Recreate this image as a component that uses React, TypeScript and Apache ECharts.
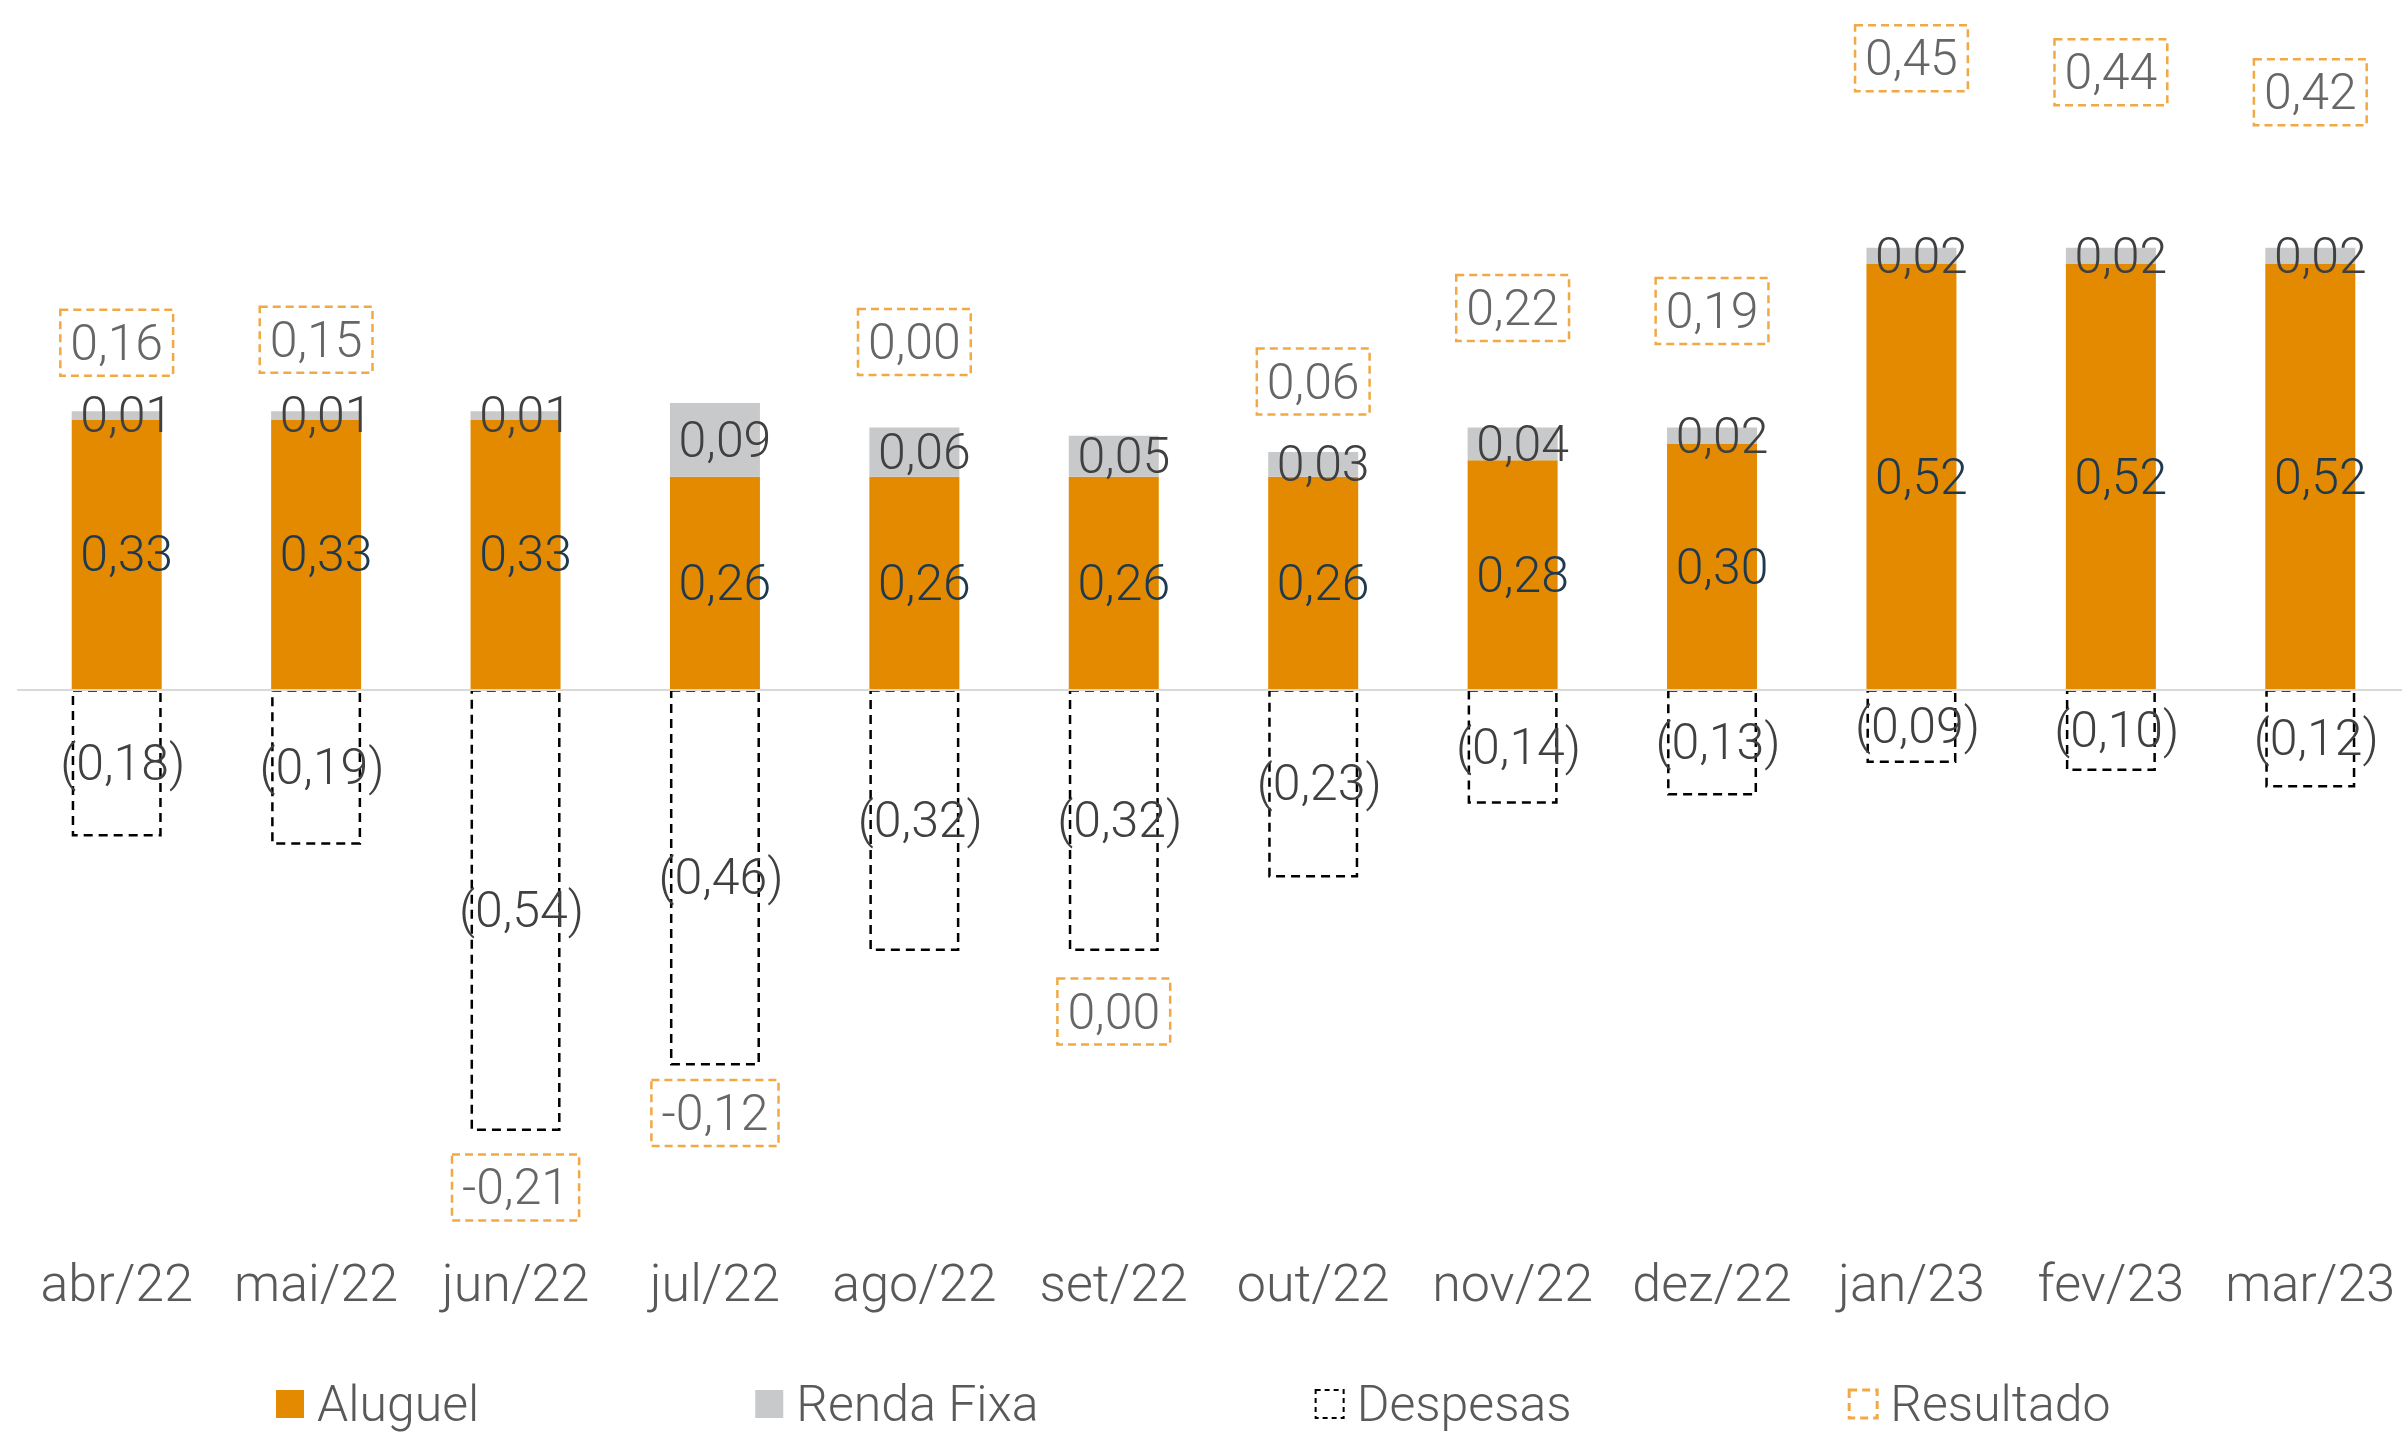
import React, { useEffect, useRef } from 'react';
import * as echarts from 'echarts';

const categories = ['abr/22', 'mai/22', 'jun/22', 'jul/22', 'ago/22', 'set/22', 'out/22', 'nov/22', 'dez/22', 'jan/23', 'fev/23', 'mar/23'];
const aluguel = [0.33, 0.33, 0.33, 0.26, 0.26, 0.26, 0.26, 0.28, 0.30, 0.52, 0.52, 0.52];
const rendaFixa = [0.01, 0.01, 0.01, 0.09, 0.06, 0.05, 0.03, 0.04, 0.02, 0.02, 0.02, 0.02];
const despesas = [-0.18, -0.19, -0.54, -0.46, -0.32, -0.32, -0.23, -0.14, -0.13, -0.09, -0.10, -0.12];
const resultado = [0.16, 0.15, -0.21, -0.12, 0.00, 0.00, 0.06, 0.22, 0.19, 0.45, 0.44, 0.42];

// layout only: gap (px) between each Resultado label box and the bar end it sits beside
const resultadoLabelDistance = [35, 38, 23, 14, 52, 27, 37, 86, 83, 156, 142, 122];

const FONT = 'Roboto';
const WEIGHT = 300;
const ORANGE = '#E48A00';
const GRAY = '#C8C9CB';
const RES_ORANGE = '#EC9416';

const fmt = (v: number) => (Math.round(Math.abs(v) * 100) / 100).toFixed(2).replace('.', ',');
const fmtSigned = (v: number) => (v < 0 && Math.round(Math.abs(v) * 100) !== 0 ? '-' : '') + fmt(v);

export default function App() {
  const ref = useRef<HTMLDivElement>(null);

  useEffect(() => {
    if (!ref.current) return;
    document.body.style.overflow = 'hidden';
    const chart = echarts.init(ref.current, undefined, { renderer: 'svg' });

    const resultadoData = resultado.map((_, i) => {
      const net = aluguel[i] + rendaFixa[i] + despesas[i];
      const above = net > -0.005;
      const anchor = above ? aluguel[i] + rendaFixa[i] : despesas[i];
      return {
        value: [i, anchor],
        label: { position: above ? 'top' : 'bottom', distance: resultadoLabelDistance[i] },
      };
    });

    const barLabel = (color: string, dx: number, wrap: boolean) => ({
      show: true,
      position: 'inside',
      offset: [dx, 0],
      fontSize: 50,
      fontFamily: FONT,
      fontWeight: WEIGHT,
      color,
      textBorderWidth: 0,
      formatter: (p: any) => (wrap ? '(' + fmt(p.value) + ')' : fmt(p.value)),
    });

    const option: any = {
      animation: false,
      backgroundColor: '#ffffff',
      textStyle: { fontFamily: FONT, fontWeight: WEIGHT },
      grid: { left: 17, top: 35, width: 2393, height: 1145, containLabel: false },
      xAxis: {
        type: 'category',
        data: categories,
        axisLine: { show: false, onZero: false },
        axisTick: { show: false },
        splitLine: { show: false },
        axisLabel: { fontSize: 52, color: '#595959', fontFamily: FONT, fontWeight: WEIGHT, margin: 77, interval: 0 },
      },
      yAxis: {
        type: 'value',
        min: -0.6,
        max: 0.8,
        show: false,
        splitLine: { show: false },
      },
      legend: {
        left: 276,
        top: 1379,
        padding: 0,
        itemWidth: 28,
        itemHeight: 28,
        itemGap: 276,
        selectedMode: false,
        textStyle: {
          fontSize: 50,
          lineHeight: 50,
          color: '#595959',
          fontFamily: FONT,
          fontWeight: WEIGHT,
          padding: [0, 0, 0, 8],
        },
        data: [
          { name: 'Aluguel', icon: 'rect', itemStyle: { color: ORANGE } },
          { name: 'Renda Fixa', icon: 'rect', itemStyle: { color: GRAY } },
          {
            name: 'Despesas',
            icon: 'rect',
            itemStyle: { color: 'rgba(0,0,0,0)', borderColor: '#000', borderWidth: 2, borderType: [5, 4] },
          },
          {
            name: 'Resultado',
            icon: 'rect',
            itemStyle: { color: 'rgba(0,0,0,0)', borderColor: RES_ORANGE, borderWidth: 3, borderType: [8, 5] },
          },
        ],
      },
      series: [
        {
          name: 'Aluguel',
          type: 'bar',
          stack: 'total',
          barWidth: 90,
          data: aluguel,
          itemStyle: { color: ORANGE },
          label: barLabel('#1F3A4F', 10, false),
          markLine: {
            silent: true,
            symbol: ['none', 'none'],
            label: { show: false },
            lineStyle: { color: '#D9D9D9', width: 2, type: 'solid' },
            data: [{ yAxis: 0 }],
            z: 10,
          },
        },
        {
          name: 'Renda Fixa',
          type: 'bar',
          stack: 'total',
          barWidth: 90,
          data: rendaFixa,
          itemStyle: { color: GRAY },
          label: barLabel('#404040', 10, false),
        },
        {
          name: 'Despesas',
          type: 'bar',
          stack: 'total',
          barWidth: 90,
          data: despesas,
          itemStyle: { color: 'rgba(0,0,0,0)', borderColor: '#000', borderWidth: 2.5, borderType: [9, 6] },
          label: barLabel('#404040', 6, true),
        },
        {
          name: 'Resultado',
          type: 'scatter',
          symbolSize: 1,
          itemStyle: { color: 'rgba(0,0,0,0)' },
          data: resultadoData,
          z: 5,
          label: {
            show: true,
            fontSize: 50,
            fontFamily: FONT,
            fontWeight: WEIGHT,
            color: '#404040',
            lineHeight: 54,
            padding: [6, 10, 6, 10],
            borderColor: RES_ORANGE,
            borderWidth: 2.5,
            borderType: [8, 5],
            formatter: (p: any) => fmtSigned(resultado[p.dataIndex]),
          },
        },
      ],
    };

    chart.setOption(option);
    return () => chart.dispose();
  }, []);

  return (
    <div
      ref={ref}
      style={{ position: 'fixed', left: 0, top: 0, width: 2412, height: 1438, background: '#fff' }}
    />
  );
}
